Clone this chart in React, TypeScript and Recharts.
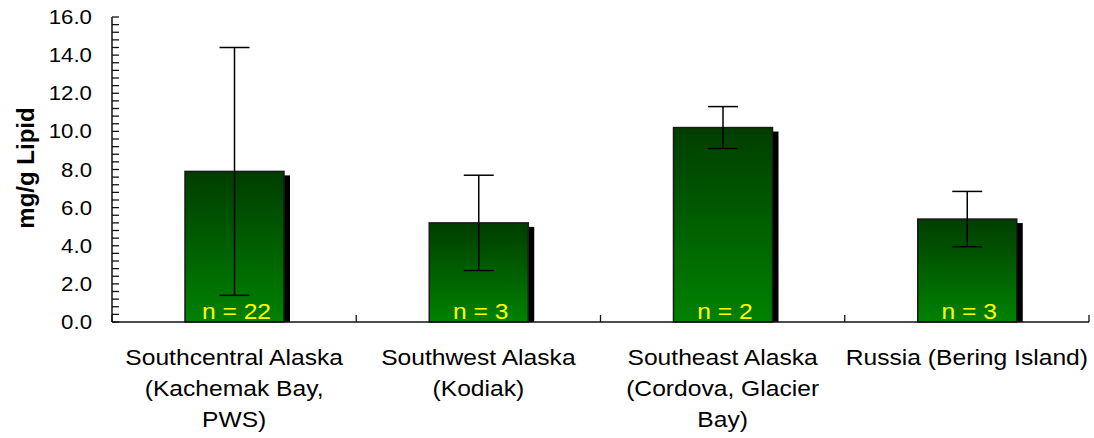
import { BarChart, Bar, XAxis, YAxis, ErrorBar, LabelList } from "recharts";

const regions = [
  "Southcentral Alaska\n(Kachemak Bay,\nPWS)",
  "Southwest Alaska\n(Kodiak)",
  "Southeast Alaska\n(Cordova, Glacier\nBay)",
  "Russia (Bering Island)",
];
const means = [7.9, 5.2, 10.2, 5.4];
const sds = [6.5, 2.5, 1.1, 1.45];
const sampleSizes = [22, 3, 2, 3];
const majorTicks = [0, 2, 4, 6, 8, 10, 12, 14, 16];

// minor ticks every 0.4 between the labelled ones
const allTicks: number[] = [];
majorTicks.forEach((t, i) => {
  if (i === majorTicks.length - 1) {
    allTicks.push(t);
    return;
  }
  for (let k = 0; k < 5; k++) allTicks.push(Math.round((t + k * 0.4) * 10) / 10);
});

const data = regions.map((region, i) => ({
  region,
  mean: means[i],
  sd: sds[i],
  n: sampleSizes[i],
}));

const W = 1094;
const H = 438;
const AXIS_X = 112;
const AXIS_Y = 322;
const RIGHT = 1089;
const BAND = (RIGHT - AXIS_X) / regions.length;
const FONT = "'Liberation Sans', Arial, sans-serif";
const STRETCH = 1.12; // the original text is a bit wide

const YTick = (props: any) => {
  const { y, payload } = props;
  const v = payload.value as number;
  const isMajor = majorTicks.includes(v);
  return (
    <g>
      <line x1={AXIS_X} x2={AXIS_X + 7} y1={y} y2={y} stroke="#111" strokeWidth={1.3} />
      {isMajor && (
        <text
          transform={`translate(92 ${y + 7}) scale(1.06 1)`}
          textAnchor="end"
          fontSize={21}
          fontFamily={FONT}
          fill="#000"
        >
          {v.toFixed(1)}
        </text>
      )}
    </g>
  );
};

const XTick = (props: any) => {
  const { x, payload, index } = props;
  const lines = String(payload.value).split("\n");
  return (
    <g>
      <line x1={x - BAND / 2} x2={x - BAND / 2} y1={AXIS_Y} y2={AXIS_Y - 7} stroke="#111" strokeWidth={1.3} />
      {index === regions.length - 1 && (
        <line x1={x + BAND / 2} x2={x + BAND / 2} y1={AXIS_Y} y2={AXIS_Y - 7} stroke="#111" strokeWidth={1.3} />
      )}
      {lines.map((ln, i) => (
        <text
          key={i}
          transform={`translate(${x} ${365 + i * 31}) scale(${STRETCH} 1)`}
          textAnchor="middle"
          fontSize={22}
          fontFamily={FONT}
          fill="#000"
        >
          {ln}
        </text>
      ))}
    </g>
  );
};

const ShadowBar = (props: any) => {
  const { x, y, width, height } = props;
  return (
    <g>
      <rect x={x + 6} y={y + 4} width={width} height={height - 4} fill="#000" />
      <rect x={x} y={y} width={width} height={height} fill="url(#barGrad)" stroke="#1a1a1a" strokeWidth={1.5} />
    </g>
  );
};

const NLabel = (props: any) => {
  const { x, y, width, height, value } = props;
  return (
    <text
      transform={`translate(${x + width / 2 + 2} ${y + height - 3}) scale(${STRETCH} 1)`}
      textAnchor="middle"
      fontSize={22}
      fontFamily={FONT}
      fill="#ffff00"
    >
      {`n = ${value}`}
    </text>
  );
};

export default function App() {
  return (
    <div style={{ position: "absolute", left: 0, top: 0, background: "#fff" }}>
      <BarChart
        width={W}
        height={H}
        data={data}
        margin={{ top: 17, right: W - RIGHT, left: 32, bottom: 0 }}
        barSize={99}
      >
        <defs>
          <linearGradient id="barGrad" x1="0" y1="0" x2="0" y2="1">
            <stop offset="0%" stopColor="#003d00" />
            <stop offset="100%" stopColor="#008200" />
          </linearGradient>
        </defs>
        <XAxis
          dataKey="region"
          height={116}
          interval={0}
          tickLine={false}
          axisLine={{ stroke: "#111", strokeWidth: 1.5 }}
          tick={<XTick />}
        />
        <YAxis
          width={80}
          domain={[0, 16]}
          ticks={allTicks}
          interval={0}
          tickLine={false}
          axisLine={{ stroke: "#111", strokeWidth: 1.5 }}
          tick={<YTick />}
          label={{
            content: () => (
              <text
                x={25}
                y={168}
                transform="rotate(-90 25 168)"
                textAnchor="middle"
                dominantBaseline="central"
                fontSize={24}
                fontWeight="bold"
                fontFamily={FONT}
                fill="#000"
              >
                mg/g Lipid
              </text>
            ),
          }}
        />
        <Bar dataKey="mean" shape={<ShadowBar />} isAnimationActive={false}>
          <ErrorBar dataKey="sd" width={15} stroke="#000" strokeWidth={1.5} isAnimationActive={false} />
          <LabelList dataKey="n" content={<NLabel />} />
        </Bar>
      </BarChart>
    </div>
  );
}
